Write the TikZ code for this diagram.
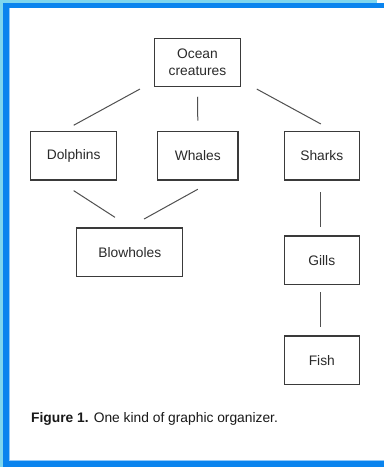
\documentclass[tikz,border=0pt]{standalone}
\usepackage{fontspec}
\setmainfont{Liberation Sans}
\definecolor{framecyan}{HTML}{7ED6EE}
\definecolor{frameblue}{HTML}{0A84EE}
\definecolor{boxline}{HTML}{3A3A3A}
\definecolor{linkline}{HTML}{505050}
\definecolor{labeltext}{HTML}{2A2A2A}
\begin{document}
\begin{tikzpicture}[x=1pt,y=-1pt,
  box/.style={draw=boxline, line width=1.2pt, fill=white, inner sep=0pt,
    minimum height=48.5pt, text=labeltext, align=center,
    font=\fontsize{13.8}{16.6}\selectfont},
  link/.style={draw=linkline, line width=1pt}]
  % page area with its outer frame
  \useasboundingbox (0,0) rectangle (384,467);
  \fill[white] (0,0) rectangle (384,467);
  \fill[framecyan] (0,0) rectangle (377,2.7);
  \fill[framecyan] (0,0) rectangle (3,467);
  \fill[frameblue] (3,2.7) rectangle (384,8);
  \fill[frameblue] (3,2.7) rectangle (9.3,467);
  \fill[frameblue] (3,461) rectangle (384,467);
  \draw[frameblue!45, line width=0.6pt] (9.6,8.3) -- (9.6,460.7) -- (384,460.7);

  % boxes
  \node[box, minimum width=86pt] (ocean) at (197.5,62.5) {Ocean\\creatures};
  \node[box, minimum width=86pt] (dolphins) at (73.7,155.8) {Dolphins};
  \node[box, minimum width=80.5pt] (whales) at (197.8,155.8) {Whales};
  \node[box, minimum width=75pt] (sharks) at (321.8,155.8) {Sharks};
  \node[box, minimum width=106pt] (blowholes) at (129.8,252.2) {Blowholes};
  \node[box, minimum width=75pt] (gills) at (321.8,260.3) {Gills};
  \node[box, minimum width=75pt] (fish) at (321.8,360.3) {Fish};

  % connectors
  \draw[link] ([xshift=-14pt,yshift=-1.7pt]ocean.south west) -- ([yshift=5.7pt]dolphins.north);
  \draw[link] ([yshift=-9.4pt]ocean.south) -- ([yshift=10.3pt]whales.north);
  \draw[link] ([xshift=15.7pt,yshift=-1.7pt]ocean.south east) -- ([xshift=-1pt,yshift=7pt]sharks.north);
  \draw[link] ([yshift=-10pt]dolphins.south) -- ([xshift=-14.8pt,yshift=10pt]blowholes.north);
  \draw[link] ([yshift=-8.6pt]whales.south) -- ([xshift=14.2pt,yshift=8.3pt]blowholes.north);
  \draw[link] ([xshift=-1pt,yshift=-11.6pt]sharks.south) -- ([xshift=-1pt,yshift=8.6pt]gills.north);
  \draw[link] ([xshift=-1pt,yshift=-7pt]gills.south) -- ([xshift=-1pt,yshift=8.6pt]fish.north);

  % caption
  \node[anchor=base west, inner sep=0pt, text=black!90,
    font=\fontsize{13.8}{16.6}\selectfont] (caption) at (31,422.3)
    {\textbf{Figure 1.} One kind of graphic organizer.};
\end{tikzpicture}
\end{document}
